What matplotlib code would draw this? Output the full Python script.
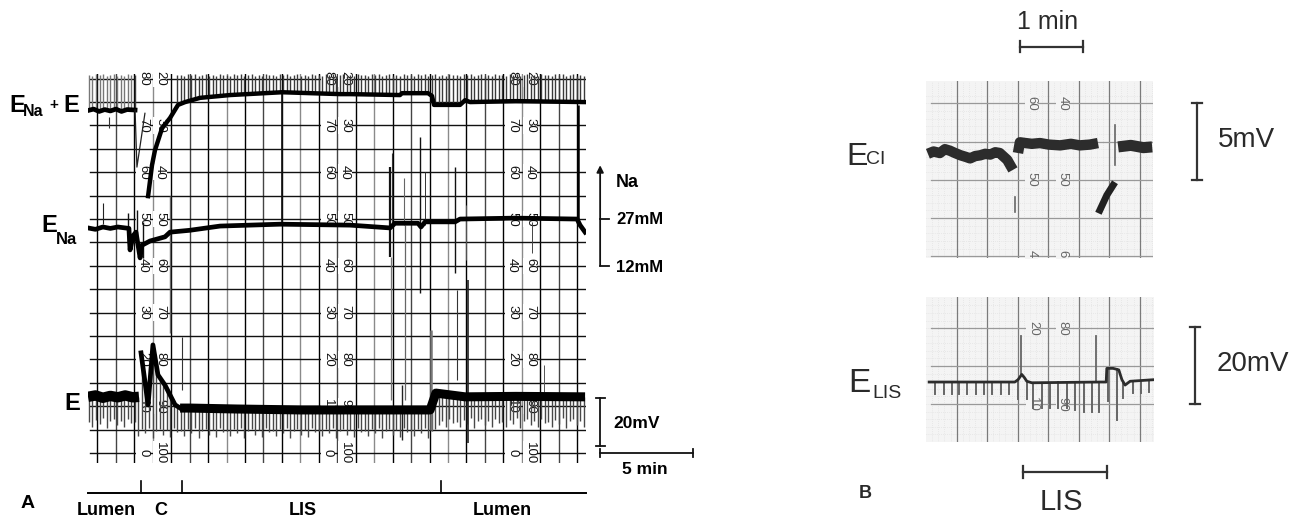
import numpy as np
import matplotlib
matplotlib.use("Agg")
import matplotlib.pyplot as plt

plt.rcParams['font.family'] = ['Liberation Sans', 'DejaVu Sans']

W, H = 1302, 522
# ---------- Panel A data (t in minutes, v in chart divisions) ----------
sum_t1 = [0, .3, .6, .9, 1.2, 1.5, 1.8, 2.1, 2.53]
sum_v1 = [73.2, 73.5, 73.0, 73.4, 73.1, 73.5, 73.0, 73.4, 73.3]
sum_t2 = [2.53, 2.63, 3.06]
sum_v2 = [73.3, 61.1, 72.6]
sum_t3 = [3.23, 3.44, 3.60, 3.98, 4.41, 4.84, 5.22, 6.02, 7.63, 10.43, 13.55, 14.09, 16.77,
          16.88, 18.28, 18.49, 18.6, 20.0, 20.27, 20.54, 23.0, 26.72]
sum_v3 = [54.9, 61.5, 64.7, 69.4, 71.6, 74.4, 75.0, 75.9, 76.5, 77.1, 76.7, 76.7, 76.5,
          76.9, 76.9, 76.3, 74.4, 74.4, 75.4, 75.0, 75.2, 75.0]
na_t = [0, .4, .8, 1.2, 1.6, 2.2, 2.26, 2.42, 2.58, 2.8, 2.9, 3.33, 4.14, 4.41, 5.48, 7.1, 10.32,
        14.09, 16.24, 16.5, 17.74, 17.9, 18.12, 19.73, 20.0, 23.0, 26.29, 26.45, 26.72]
na_v = [48.1, 47.8, 48.3, 48.0, 48.3, 48.0, 43.4, 46.4, 47.2, 41.7, 44.4, 45.3, 46.2, 47.2, 47.6, 48.5, 48.9,
        48.7, 48.1, 49.1, 49.1, 48.3, 49.4, 49.4, 50.0, 50.2, 50.0, 48.7, 47.2]
e_t1 = [0, .4, .8, 1.2, 1.6, 2.0, 2.4, 2.74]
e_v1 = [12.0, 12.3, 11.8, 12.2, 11.9, 12.3, 11.9, 12.0]
e_t2 = [2.85, 3.23, 3.49, 3.76, 4.14, 4.68, 4.95]
e_v2 = [21.4, 10.3, 23.1, 16.7, 14.5, 10.3, 9.6]
e_t3 = [4.95, 5.48, 8.0, 11.4, 15.0, 18.39, 18.7, 20.27, 23.0, 26.72]
e_v3 = [9.6, 9.6, 9.4, 9.2, 9.2, 9.2, 12.8, 12.0, 12.1, 12.0]
# artefact spikes: time, low, high
spike_t = [10.43, 16.24, 16.34, 16.99, 17.85, 18.12, 19.73, 20.32, 26.34, 23.87, 16.29, 17.04,
           18.44, 19.84, 20.43, 16.88, 24.52, 0.8, 1.13, 2.15, 2.63, 2.96, 5.05, 4.41]
spike_lo = [49.4, 41.9, 49.1, 48.7, 34.2, 48.7, 38.5, 41.2, 50.0, 42.7, 11.3, 11.3,
            4.9, 15.6, 2.1, 2.8, 13.0, 49.0, 69.4, 44.9, 45.5, 41.7, 13.5, 25.6]
spike_hi = [76.9, 61.1, 64.1, 58.8, 67.5, 60.0, 61.1, 53.0, 74.4, 49.4, 41.9, 48.7,
            26.3, 34.8, 37.0, 14.5, 18.8, 53.4, 71.8, 51.3, 52.0, 49.4, 24.8, 55.0]
spike_w = [1.2, 1.6, .8, .8, 1.0, .7, 1.0, .7, 1.8, .7, .9, .9,
           1.8, .8, 1.2, 1.0, .7, .8, .8, 1.0, 1.0, 1.0, .8, 1.0]
spike_c = ['#111', '#111', '#333', '#666', '#111', '#333', '#111', '#555', '#000', '#444', '#777', '#666',
           '#777', '#333', '#222', '#222', '#555', '#222', '#333', '#111', '#111', '#111', '#333', '#666']
left_labels = [80, 70, 60, 50, 40, 30, 20, 10, 0]
right_labels = [20, 30, 40, 50, 60, 70, 80, 90, 100]
label_cols = [(2.96, 3.87), (12.9, 13.82), (22.8, 23.76)]
seg_bounds = [0, 2.85, 5.05, 18.98, 26.77]
seg_names = ['Lumen', 'C', 'LIS', 'Lumen']
seg_centers = [1.0, 3.9, 11.56, 22.26]
mark_jitter = [0, -1.0, .5, -.4, .8, -1.3, .2, .6, -.7, .3, -1.1, .7, -.2]

# ---------- Panel B data (t in minutes, v in chart divisions) ----------
cl_t1 = [.03, .12, .22, .30, .38, .46, .55, .63, .70, .78, .86, .94, 1.02, 1.10, 1.17, 1.29, 1.38]
cl_v1 = [53.4, 53.7, 53.5, 54.0, 53.8, 53.5, 53.2, 53.0, 52.8, 53.1, 53.2, 53.4, 53.3, 53.6, 53.5, 52.6, 51.3]
cl_t2 = [1.46, 1.49, 1.58, 1.68, 1.81, 1.95, 2.13, 2.30, 2.44, 2.60, 2.73]
cl_v2 = [53.5, 54.9, 54.8, 54.7, 54.8, 54.6, 54.5, 54.7, 54.5, 54.6, 54.8]
cl_t3 = [3.05, 3.15, 3.25, 3.32, 3.45, 3.59]
cl_v3 = [54.3, 54.4, 54.5, 54.4, 54.2, 54.3]
cl_blob_t = [2.76, 2.87, 2.97]
cl_blob_v = [46.05, 48.0, 49.3]
cl_spike_t = [3.0, 1.41]
cl_spike_lo = [51.9, 45.8]
cl_spike_hi = [57.1, 47.7]
lis_t = [.05, 1.41, 1.46, 1.52, 1.56, 1.6, 1.68, 2.76, 2.86, 2.87, 2.97, 3.06, 3.11, 3.16, 3.24, 3.6]
lis_v = [12.9, 12.9, 13.2, 13.9, 13.5, 13.0, 12.8, 12.9, 12.9, 14.7, 14.7, 14.5, 13.2, 12.5, 13.0, 13.2]
lis_spike_t = [1.51, 2.70]
lis_spike_lo = [13.9, 12.9]
lis_spike_hi = [19.0, 19.0]
lis_mark_t = [.14, .29, .41, .52, .65, .79, .92, 1.05, 1.19, 1.32, 1.46, 1.6, 1.7, 1.84, 1.97, 2.1, 2.24,
              2.37, 2.5, 2.63, 2.75, 2.89, 3.03, 3.13, 3.29, 3.41, 3.54]
lis_mark_lo = [11.3, 11.3, 11.3, 11.3, 11.3, 11.3, 11.3, 11.3, 11.3, 11.3, 10.6, 10.6, 9.5, 9.5, 9.5, 9.5, 9.5,
               9.2, 9.0, 9.0, 9.0, 10.4, 7.9, 10.8, 11.4, 11.4, 11.6]


def add_axes(x0, y0, x1, y1):
    return fig.add_axes([x0 / W, 1 - y1 / H, (x1 - x0) / W, (y1 - y0) / H])


def ftext(x, y, s, size=12.5, ha='left', weight='normal', color='#000', **kw):
    fig.text(x / W, 1 - y / H, s, fontsize=size, ha=ha, va='center', fontweight=weight, color=color, **kw)


fig = plt.figure(figsize=(W / 100, H / 100), dpi=100, facecolor='white')

# ================= PANEL A =================
a = add_axes(88, 74, 586, 463)
a.set_xlim(0, 26.77)
a.set_ylim(-2.14, 81.0)
a.axis('off')

vcols = ['#000', '#444', '#000', '#8a8a8a']
for i, x in enumerate(np.linspace(0.51, 26.29, 27)):
    a.plot([x, x], [-2.14, 81.0], color=vcols[i % 4], lw=1.0, zorder=1)
for v in np.arange(0, 81, 5):
    a.plot([.1, 26.77], [v, v], color='#111', lw=1.0, zorder=1)

for (c1, c2) in label_cols:
    for l1, l2 in zip(left_labels, right_labels):
        a.text(c1, l1, str(l1), rotation=270, ha='center', va='center', fontsize=9.5, color='#111', zorder=2,
               bbox=dict(fc='white', ec='none', pad=.6))
        a.text(c2, l1, str(l2), rotation=270, ha='center', va='center', fontsize=9.5, color='#111', zorder=2,
               bbox=dict(fc='white', ec='none', pad=.6))

# time marks (hatching) on the top and bottom traces
sum_all_t = sum_t1 + sum_t3
sum_all_v = sum_v1 + sum_v3
e_all_t = e_t1 + e_t2 + e_t3
e_all_v = e_v1 + e_v2 + e_v3
for i, t in enumerate(np.arange(0.05, 26.72, 0.19)):
    if not 2.55 < t < 4.8:
        base = np.interp(t, sum_all_t, sum_all_v)
        a.plot([t, t], [base, 80.8 + mark_jitter[i % 13] * .25], color='#3a3a3a' if t > 2.5 else '#777',
               lw=1.0, zorder=3, solid_capstyle='butt')
    b = np.interp(t, e_all_t, e_all_v)
    low = 6.6 if (t < 2.7 or t > 18.8) else 4.6
    a.plot([t, t], [b, low + mark_jitter[i % 13]], color='#484848', lw=1.0, zorder=3, solid_capstyle='butt')

for t, lo, hi, w, c in zip(spike_t, spike_lo, spike_hi, spike_w, spike_c):
    a.plot([t, t], [lo, hi], color=c, lw=w, zorder=4, solid_capstyle='butt')

a.plot(sum_t1, sum_v1, color='#000', lw=3.4, zorder=5)
a.plot(sum_t2, sum_v2, color='#222', lw=.9, zorder=5)
a.plot(sum_t3, sum_v3, color='#000', lw=3.2, zorder=5)
a.plot(na_t, na_v, color='#000', lw=3.4, zorder=5)
a.plot(e_t1, e_v1, color='#000', lw=7.5, zorder=5, solid_capstyle='butt')
a.plot(e_t2, e_v2, color='#000', lw=3.4, zorder=5)
a.plot(e_t3, e_v3, color='#000', lw=6.5, zorder=5, solid_capstyle='butt')

# scale bars (clip off, in the panel's own units)
kw = dict(color='#111', lw=1.3, clip_on=False)
a.annotate('', xy=(27.53, 61.5), xytext=(27.53, 40), annotation_clip=False,
           arrowprops=dict(arrowstyle='-|>', color='#111', lw=1.3, shrinkA=0, shrinkB=0, mutation_scale=10))
a.plot([27.53, 28.0], [50, 50], **kw)
a.plot([27.53, 28.0], [40, 40], **kw)
a.plot([27.53, 27.53], [1.5, 11.7], **kw)
a.plot([27.3, 27.8], [11.7, 11.7], **kw)
a.plot([27.3, 27.8], [1.5, 1.5], **kw)
a.plot([27.5, 32.5], [0, 0], **kw)
a.plot([27.5, 27.5], [-.8, .8], **kw)
a.plot([32.5, 32.5], [-.8, .8], **kw)
# segment bar
a.plot([seg_bounds[0], seg_bounds[-1]], [-8.55, -8.55], color='#000', lw=1.4, clip_on=False)
for t in seg_bounds[1:-1]:
    a.plot([t, t], [-8.55, -6.0], color='#000', lw=1.2, clip_on=False)
for name, t in zip(seg_names, seg_centers):
    a.text(t, -12.3, name, ha='center', va='center', fontsize=13, fontweight='bold', color='#000', clip_on=False)

ftext(9, 105, 'E', 17, weight='bold')
ftext(23, 112, 'Na', 11.5, weight='bold')
ftext(49, 105, '+', 11, weight='bold')
ftext(63, 105, 'E', 17, weight='bold')
ftext(41, 226, 'E', 17, weight='bold')
ftext(56, 240, 'Na', 12, weight='bold')
ftext(64, 403, 'E', 17, weight='bold')
ftext(21, 503, 'A', 14, weight='bold')
ftext(616, 182, 'Na', 13, weight='bold')
ftext(616, 220, '27mM', 12, weight='bold')
ftext(616, 267, '12mM', 12, weight='bold')
ftext(613, 423, '20mV', 12.5, weight='bold')
ftext(622, 469, '5 min', 12.5, weight='bold')

# ================= PANEL B =================
paper = '#f4f4f4'


def paper_axes(x0, y0, x1, y1, ylo, yhi, majors, minors):
    ax = add_axes(x0, y0, x1, y1)
    ax.set_xlim(0, (x1 - x0) / 63)
    ax.set_ylim(ylo, yhi)
    ax.set_facecolor(paper)
    ax.set_xticks([])
    ax.set_yticks([])
    for s in ax.spines.values():
        s.set_visible(False)
    xm = [.49 + .484 * k for k in range(7)]
    for x in np.arange(.10, 3.6, .0968):
        ax.axvline(x, color='#dcdcdc', lw=.5, ls=(0, (1, 2)), zorder=1)
    for y in minors:
        ax.axhline(y, color='#dcdcdc', lw=.5, ls=(0, (1, 2)), zorder=1)
    for x in xm:
        ax.axvline(x, color='#7a7a7a', lw=.9, zorder=1)
    for y in majors:
        ax.axhline(y, xmin=.02, color='#999', lw=.9, zorder=1)
    return ax


top = paper_axes(926, 81, 1153, 258, 39.8, 62.9, [60, 55, 50, 45, 40], np.arange(40, 62, 1.0))
for y, l, r in [(60, '60', '40'), (50, '50', '50'), (40, '4', '6')]:
    for x, s in [(1.68, l), (2.17, r)]:
        top.text(x, y + (.3 if y == 40 else 0), s, rotation=270, ha='center', va='center', fontsize=9.5,
                 color='#666', zorder=2, bbox=dict(fc=paper, ec='none', pad=.5))
top.plot(cl_t1, cl_v1, color='#2c2c2c', lw=7.5, zorder=4, solid_joinstyle='round', solid_capstyle='butt')
top.plot(cl_t2, cl_v2, color='#2c2c2c', lw=7.5, zorder=4, solid_joinstyle='round', solid_capstyle='butt')
top.plot(cl_t3, cl_v3, color='#2c2c2c', lw=8, zorder=4, solid_joinstyle='round', solid_capstyle='butt')
top.plot(cl_blob_t, cl_blob_v, color='#222', lw=5, zorder=4)
for t, lo, hi in zip(cl_spike_t, cl_spike_lo, cl_spike_hi):
    top.plot([t, t], [lo, hi], color='#666', lw=1.2, zorder=4)
# scale bars of the top strip
kwb = dict(color='#333', lw=1.6, clip_on=False)
top.plot([4.3, 4.3], [50, 60], **kwb)
top.plot([4.22, 4.38], [60, 60], **kwb)
top.plot([4.22, 4.38], [50, 50], **kwb)
top.plot([1.49, 2.49], [67.4, 67.4], **kwb)
top.plot([1.49, 1.49], [66.7, 68.1], **kwb)
top.plot([2.49, 2.49], [66.7, 68.1], **kwb)

bot = paper_axes(926, 297, 1154, 442, 5.0, 24.1, [20, 15, 10], np.arange(6, 24, 1.0))
for y, l, r in [(20, '20', '80'), (10, '10', '90')]:
    for x, s in [(1.70, l), (2.17, r)]:
        bot.text(x, y, s, rotation=270, ha='center', va='center', fontsize=9.5, color='#666', zorder=2,
                 bbox=dict(fc=paper, ec='none', pad=.5))
for t, lo in zip(lis_mark_t, lis_mark_lo):
    bot.plot([t, t], [np.interp(t, lis_t, lis_v), lo], color='#666', lw=1.4, zorder=3)
for t, lo, hi in zip(lis_spike_t, lis_spike_lo, lis_spike_hi):
    bot.plot([t, t], [lo, hi], color='#666', lw=1.3, zorder=3)
bot.plot(lis_t, lis_v, color='#2c2c2c', lw=2.0, zorder=4)
bot.plot([4.27, 4.27], [10, 20.2], **kwb)
bot.plot([4.19, 4.35], [20.2, 20.2], **kwb)
bot.plot([4.19, 4.35], [10, 10], **kwb)
bot.plot([1.54, 2.87], [1.0, 1.0], **kwb)
bot.plot([1.54, 1.54], [.2, 1.8], **kwb)
bot.plot([2.87, 2.87], [.2, 1.8], **kwb)

dark = '#2a2a2a'
ftext(1017, 22, '1 min', 18, color=dark)
ftext(846, 157, 'E', 23, color=dark)
ftext(866, 159, 'CI', 14, color=dark)
ftext(1218, 140, '5mV', 20, color=dark)
ftext(848, 383, 'E', 24, color=dark)
ftext(872, 393, 'LIS', 14, color=dark)
ftext(1217, 364, '20mV', 20, color=dark)
ftext(859, 493, 'B', 13, weight='bold', color=dark)
ftext(1061, 502, 'LIS', 21, ha='center', color=dark)

fig.savefig('out.png', dpi=100, facecolor='white')
